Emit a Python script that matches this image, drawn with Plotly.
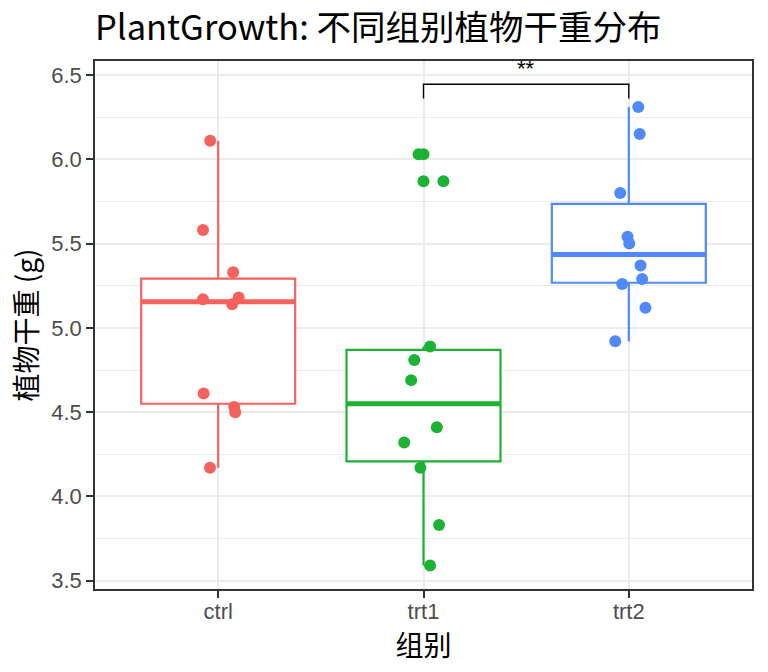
import numpy as np
import plotly.graph_objects as go

# PlantGrowth data
groups = ["ctrl", "trt1", "trt2"]
group_colors = ["#F5625E", "#1CB234", "#5089F9"]

ctrl = [4.17, 5.58, 5.18, 6.11, 4.50, 4.61, 5.17, 4.53, 5.33, 5.14]
trt1 = [4.81, 4.17, 4.41, 3.59, 5.87, 3.83, 6.03, 4.89, 4.32, 4.69]
trt2 = [6.31, 5.12, 5.54, 5.50, 5.37, 5.29, 4.92, 6.15, 5.80, 5.26]

# horizontal jitter of each point (category units)
ctrl_jitter = [-0.040, -0.074, 0.100, -0.039, 0.083, -0.071, -0.074, 0.078, 0.073, 0.068]
trt1_jitter = [-0.045, -0.015, 0.065, 0.032, 0.097, 0.076, -0.024, 0.032, -0.094, -0.060]
trt2_jitter = [0.046, 0.081, -0.006, 0.002, 0.057, 0.065, -0.066, 0.053, -0.042, -0.032]

# significance bracket trt1 vs trt2
bracket_pair = (2, 3)
bracket_y = 6.445
bracket_tip = 6.36
signif_label = "**"

values = [ctrl, trt1, trt2]
jitters = [ctrl_jitter, trt1_jitter, trt2_jitter]
box_w = 0.75


def box_stats(vals):
    # same rules as ggplot: type 7 quantiles, whiskers to 1.5 IQR
    v = np.asarray(vals)
    q1, med, q3 = np.percentile(v, [25, 50, 75])
    iqr = q3 - q1
    inside = v[(v >= q1 - 1.5 * iqr) & (v <= q3 + 1.5 * iqr)]
    out = v[(v < q1 - 1.5 * iqr) | (v > q3 + 1.5 * iqr)]
    return q1, med, q3, inside.min(), inside.max(), out


fig = go.Figure()

for i, (name, col, vals) in enumerate(zip(groups, group_colors, values)):
    pos = i + 1
    q1, med, q3, lo, hi, out = box_stats(vals)
    fig.add_trace(go.Box(
        x=[pos], q1=[q1], median=[med], q3=[q3], lowerfence=[lo], upperfence=[hi],
        name=name, width=box_w, whiskerwidth=0, boxpoints=False,
        fillcolor="white", line=dict(color=col, width=2.2),
        showlegend=False, hoverinfo="y",
    ))
    fig.add_trace(go.Scatter(
        x=[pos - box_w / 2, pos + box_w / 2], y=[med, med], mode="lines",
        line=dict(color=col, width=5), showlegend=False, hoverinfo="skip",
    ))
    if len(out):
        fig.add_trace(go.Scatter(
            x=[pos] * len(out), y=out, mode="markers",
            marker=dict(color=col, size=12, line=dict(width=0)),
            showlegend=False,
        ))

for i, (name, col, vals, jit) in enumerate(zip(groups, group_colors, values, jitters)):
    pos = i + 1
    fig.add_trace(go.Scatter(
        x=[pos + j for j in jit], y=vals, mode="markers", name=name,
        marker=dict(color=col, size=12, line=dict(width=0)),
        showlegend=False,
    ))

a, b = bracket_pair
fig.add_trace(go.Scatter(
    x=[a, a, b, b], y=[bracket_tip, bracket_y, bracket_y, bracket_tip],
    mode="lines", line=dict(color="black", width=1.4),
    showlegend=False, hoverinfo="skip",
))
fig.add_annotation(
    x=(a + b) / 2, y=bracket_y, text=signif_label, showarrow=False,
    yanchor="bottom", yshift=1,
    font=dict(family="Liberation Sans", size=22, color="black"),
)

fig.update_layout(
    width=768, height=672,
    margin=dict(l=95, r=16, t=61, b=83),
    plot_bgcolor="white", paper_bgcolor="white",
    title=dict(
        text="PlantGrowth: 不同组别植物干重分布",
        x=95 / 768, xref="container", xanchor="left",
        y=1 - 28 / 672, yref="container", yanchor="middle",
        font=dict(family="Noto Sans CJK SC", size=34.5, color="black"),
    ),
)

fig.update_xaxes(
    range=[0.4, 3.6], tickvals=[1, 2, 3], ticktext=groups,
    showgrid=True, gridcolor="#EBEBEB", gridwidth=2,
    zeroline=False, showline=True, linecolor="#333333", linewidth=1.5, mirror=True,
    ticks="outside", ticklen=7, tickwidth=2, tickcolor="#333333",
    ticklabelstandoff=-5,
    tickfont=dict(family="Liberation Sans", size=22, color="#4D4D4D"),
    title=dict(text="组别", standoff=0,
               font=dict(family="Noto Sans CJK SC", size=28, color="black")),
)
fig.update_yaxes(
    range=[3.451, 6.583], tick0=3.5, dtick=0.5, tickformat=".1f",
    showgrid=True, gridcolor="#EBEBEB", gridwidth=2,
    minor=dict(dtick=0.25, tick0=3.5, showgrid=True, gridcolor="#EBEBEB", gridwidth=1),
    zeroline=False, showline=True, linecolor="#333333", linewidth=1.5, mirror=True,
    ticks="outside", ticklen=7, tickwidth=2, tickcolor="#333333",
    tickfont=dict(family="Liberation Sans", size=22, color="#4D4D4D"),
    title=dict(text="植物干重 (g)", standoff=5,
               font=dict(family="Noto Sans CJK SC", size=28, color="black")),
)

# drop the browser's default body margin so the 768x672 figure fills the window
fig.write_html("out.html", config={"displayModeBar": False},
               post_script="document.body.style.margin = '0';")
